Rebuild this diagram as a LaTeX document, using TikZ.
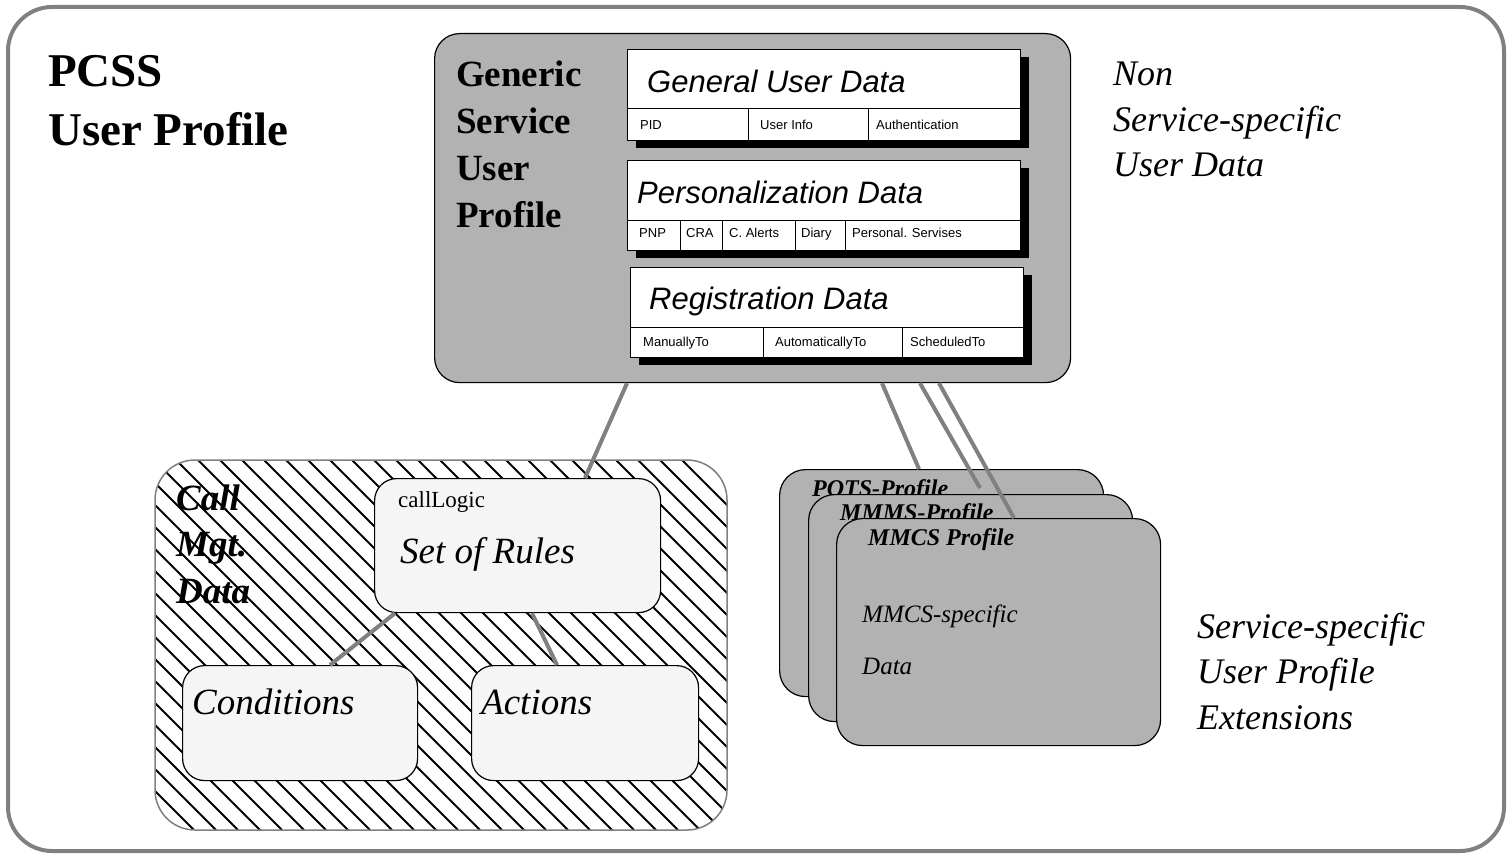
\documentclass[tikz,border=0pt]{standalone}
\usepackage{fontspec}
\setmainfont{Liberation Serif}
\setsansfont{Liberation Sans}
\usetikzlibrary{positioning}
\definecolor{framegray}{gray}{0.5}
\definecolor{boxgray}{gray}{0.70}
\definecolor{rulegray}{gray}{0.96}
\tikzset{
  link/.style={draw=framegray,line width=4pt},
  gsbox/.style={draw,line width=1.2pt,fill=boxgray,rounded corners=25pt,anchor=north west,inner sep=0pt},
  rulebox/.style={draw,line width=1.2pt,fill=rulegray,rounded corners=22pt,anchor=north west,inner sep=0pt},
  profbox/.style={draw,line width=1.2pt,fill=boxgray,rounded corners=26pt,anchor=north west,inner sep=0pt,minimum width=324pt,minimum height=227pt},
  databox/.style={draw,line width=0.9pt,fill=white},
  title/.style={anchor=base west,inner sep=0pt,align=left,font=\bfseries\fontsize{47}{59}\selectfont},
  note/.style={anchor=base west,inner sep=0pt,align=left,font=\itshape\fontsize{36}{45.5}\selectfont},
  head/.style={anchor=base west,inner sep=0pt,font=\sffamily\itshape\fontsize{31}{31}\selectfont},
  cell/.style={anchor=base west,inner sep=0pt,font=\sffamily\fontsize{13}{13}\selectfont},
  rtext/.style={anchor=base west,inner sep=0pt,font=\itshape\fontsize{37}{37}\selectfont},
  ptitle/.style={anchor=base west,inner sep=0pt,font=\bfseries\itshape\fontsize{24}{24}\selectfont},
  ptext/.style={anchor=base west,inner sep=0pt,font=\itshape\fontsize{25}{25}\selectfont}
}
\begin{document}
\begin{tikzpicture}[x=1pt,y=-1pt]
\useasboundingbox (0,0) rectangle (1512,858);
\draw[framegray,line width=4pt,rounded corners=44pt] (8,7) rectangle (1504,851);
% multi-line texts sit on their last baseline
\node[title] (pcss) at (48,146) {PCSS\\User Profile};

% generic part
\node[gsbox,minimum width=636pt,minimum height=349pt] (gsup) at (434,33) {};
\node[title,font=\bfseries\fontsize{37}{47}\selectfont] (gsuptxt) at (456,228) {Generic\\Service\\User\\Profile};

% general user data
\fill (636,57) rectangle (1029,148);
\draw[databox] (627,49) rectangle (1020,140);
\draw[line width=0.9pt] (627,108) -- (1020,108) (748,108) -- (748,140) (868,108) -- (868,140);
\node[head] (gud) at (647,93) {General User Data};
\foreach \x/\t in {640/PID,760/User Info,876/Authentication}
  \node[cell] (gud-\x) at (\x,130) {\t};

% personalization data
\fill (636,168) rectangle (1029,258);
\draw[databox] (627,160) rectangle (1020,250);
\draw[line width=0.9pt] (627,220) -- (1020,220);
\foreach \x in {680,722,795,845}
  \draw[line width=0.9pt] (\x,220) -- (\x,250);
\node[head] (pd) at (637,204) {Personalization Data};
\foreach \x/\t in {639/PNP,686/CRA,729/C. Alerts,801/Diary,852/Personal. Servises}
  \node[cell] (pd-\x) at (\x,238) {\t};

% registration data
\fill (639,275) rectangle (1032,365);
\draw[databox] (630,267) rectangle (1023,357);
\draw[line width=0.9pt] (630,327) -- (1023,327) (763,327) -- (763,357) (902,327) -- (902,357);
\node[head] (rd) at (649,310) {Registration Data};
\foreach \x/\t in {643/ManuallyTo,775/AutomaticallyTo,910/ScheduledTo}
  \node[cell] (rd-\x) at (\x,347) {\t};

\node[note] (nonspec) at (1113,177) {Non\\Service-specific\\User Data};
\node[note] (servspec) at (1197,729) {Service-specific\\User Profile\\Extensions};

% call management data
\begin{scope}
\clip[rounded corners=40pt] (155,460) rectangle (727,830);
\fill[white] (155,460) rectangle (727,830);
\foreach \x in {-220,-198,...,730}
  \draw[line width=1.8pt] (\x,460) -- ++(370,370);
\end{scope}
\draw[framegray,line width=1.5pt,rounded corners=40pt] (155,460) rectangle (727,830);
\node[title,font=\bfseries\itshape\fontsize{37}{46.5}\selectfont] (cmd) at (176,603) {Call\\Mgt.\\Data};

\node[rulebox,minimum width=286pt,minimum height=134pt] (rules) at (374,478) {};
\node[anchor=base west,inner sep=0pt,font=\fontsize{23}{23}\selectfont] (calllogic) at (398,507) {callLogic};
\node[rtext] (setrules) at (400,563) {Set of Rules};
\node[rulebox,minimum width=235pt,minimum height=115pt] (cond) at (182,665) {};
\node[rtext] (condtxt) at (192,714) {Conditions};
\node[rulebox,minimum width=227pt,minimum height=115pt] (act) at (471,665) {};
\node[rtext] (acttxt) at (481,714) {Actions};

% service profiles
\node[profbox] (pots) at (779,469) {};
\node[ptitle] (potstxt) at (812,496) {POTS-Profile};
\node[profbox] (mmms) at (808,494) {};
\node[ptitle] (mmmstxt) at (840,520) {MMMS-Profile};
\node[profbox] (mmcs) at (836,518) {};
\node[ptitle] (mmcstxt) at (868,545) {MMCS Profile};
\node[ptext] (mmcsspec) at (862,622) {MMCS-specific};
\node[ptext] (mmcsdata) at (862,674) {Data};

% links
\draw[link] ([xshift=193pt]gsup.south west) -- ([xshift=211pt]rules.north west);
\draw[link] ([xshift=448pt]gsup.south west) -- ([xshift=140pt]pots.north west);
\draw[link] ([xshift=486pt]gsup.south west) -- ([xshift=172pt,yshift=6pt]mmms.north west);
\draw[link] ([xshift=505pt]gsup.south west) -- ([xshift=178pt]mmcs.north west);
\draw[link] ([xshift=21pt]rules.south west) -- ([xshift=148pt]cond.north west);
\draw[link] ([xshift=158pt]rules.south west) -- ([xshift=86pt]act.north west);
\end{tikzpicture}
\end{document}
